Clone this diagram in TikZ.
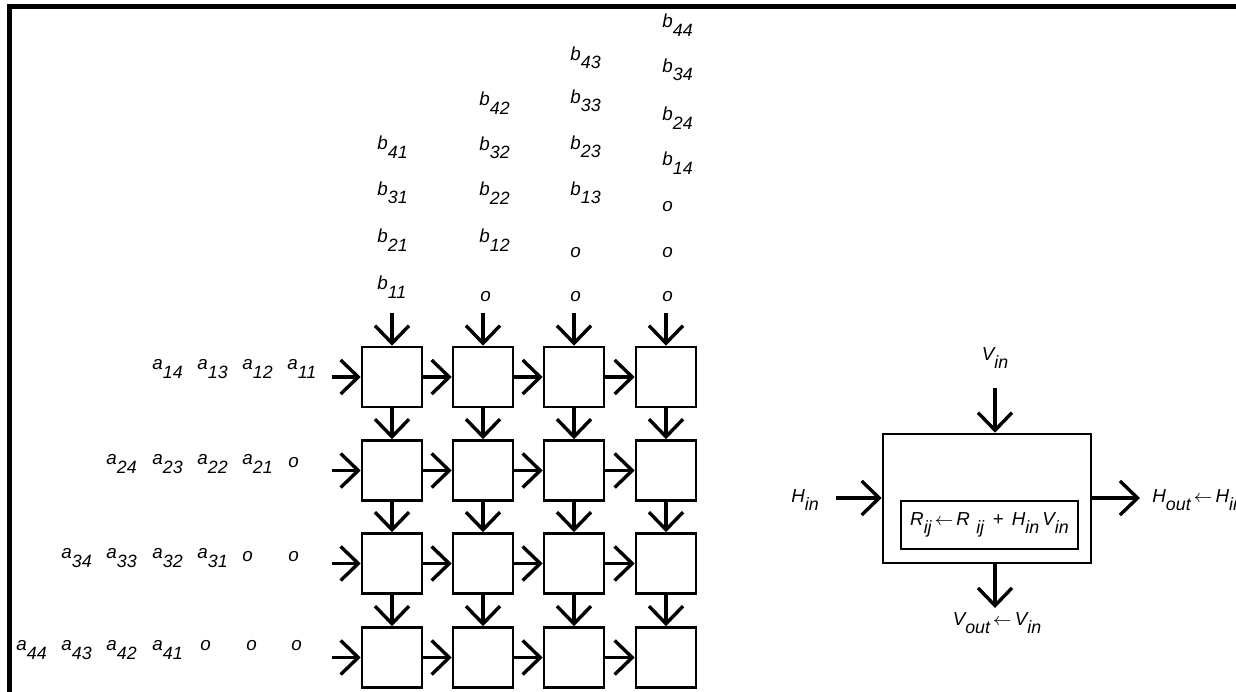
\documentclass[tikz,border=0pt]{standalone}
\usepackage{fontspec}
\setmainfont{Liberation Sans}
\usetikzlibrary{arrows.meta}
% lowered index, set almost at full size
\newcommand\lowsub[1]{\raisebox{-0.45em}{\fontsize{8.9}{9}\selectfont #1}}

\begin{document}
\begin{tikzpicture}[x=0.5pt,y=-0.5pt,
  pe/.style={draw, line width=1.3pt, minimum width=30pt, minimum height=30pt, inner sep=0pt},
  flow/.style={line width=1.7pt, -{Straight Barb[length=8.8pt,width=17pt,line width=1.7pt]}},
  lbl/.style={font=\fontsize{9.4}{10}\selectfont\itshape, inner sep=0pt, anchor=west},
  clbl/.style={font=\fontsize{9.4}{10}\selectfont\itshape, inner sep=0pt},
]
\useasboundingbox (0,0) rectangle (1236,691);
\clip (0,0) rectangle (1236,691);

% frame
\draw[line width=2.6pt] (9.5,700) -- (9.5,6.5) -- (1240,6.5);

% processing elements
\foreach \r/\y in {1/377,2/470.5,3/563.5,4/657.5}
  \foreach \c/\x in {1/392,2/483,3/574,4/666}
    \node[pe] (c\r\c) at (\x,\y) {};

% inputs from above and from the left
\foreach \c/\x in {1/392,2/483,3/574,4/666} {
  \coordinate (vin\c) at (\x,313);
  \draw[flow] (vin\c) -- (c1\c.north);
}
\foreach \r/\y in {1/377,2/470.5,3/563.5,4/657.5} {
  \coordinate (hin\r) at (332,\y);
  \draw[flow] (hin\r) -- (c\r1.west);
}

% links between neighbours
\foreach \r in {1,2,3,4}
  \foreach \c/\n in {1/2,2/3,3/4}
    \draw[flow] (c\r\c.east) -- (c\r\n.west);
\foreach \c in {1,2,3,4}
  \foreach \r/\n in {1/2,2/3,3/4}
    \draw[flow] (c\r\c.south) -- (c\n\c.north);

% B stream, column by column
\node[lbl] (b41) at (377,147) {b\lowsub{41}};
\node[lbl] (b31) at (377,193) {b\lowsub{31}};
\node[lbl] (b21) at (377,240) {b\lowsub{21}};
\node[lbl] (b11) at (377,287) {b\lowsub{11}};

\node[lbl] (b42) at (479,103) {b\lowsub{42}};
\node[lbl] (b32) at (479,148) {b\lowsub{32}};
\node[lbl] (b22) at (479,193) {b\lowsub{22}};
\node[lbl] (b12) at (479,240) {b\lowsub{12}};
\node[lbl] (z21) at (480,297) {o};

\node[lbl] (b43) at (570,58) {b\lowsub{43}};
\node[lbl] (b33) at (570,101) {b\lowsub{33}};
\node[lbl] (b23) at (570,147) {b\lowsub{23}};
\node[lbl] (b13) at (570,193) {b\lowsub{13}};
\node[lbl] (z32) at (570,253) {o};
\node[lbl] (z31) at (570,297) {o};

\node[lbl] (b44) at (662,25) {b\lowsub{44}};
\node[lbl] (b34) at (662,70) {b\lowsub{34}};
\node[lbl] (b24) at (662,118) {b\lowsub{24}};
\node[lbl] (b14) at (662,163) {b\lowsub{14}};
\node[lbl] (z43) at (662,207) {o};
\node[lbl] (z42) at (662,253) {o};
\node[lbl] (z41) at (662,297) {o};

% A stream, row by row
\node[lbl] (a14) at (152,369) {a\lowsub{14}};
\node[lbl] (a13) at (197,369) {a\lowsub{13}};
\node[lbl] (a12) at (242,369) {a\lowsub{12}};
\node[lbl] (a11) at (287,369) {a\lowsub{11}};

\node[lbl] (a24) at (106,464) {a\lowsub{24}};
\node[lbl] (a23) at (152,464) {a\lowsub{23}};
\node[lbl] (a22) at (197,464) {a\lowsub{22}};
\node[lbl] (a21) at (242,464) {a\lowsub{21}};
\node[lbl] (y21) at (288,463) {o};

\node[lbl] (a34) at (61,558) {a\lowsub{34}};
\node[lbl] (a33) at (106,558) {a\lowsub{33}};
\node[lbl] (a32) at (152,558) {a\lowsub{32}};
\node[lbl] (a31) at (197,558) {a\lowsub{31}};
\node[lbl] (y32) at (242,557) {o};
\node[lbl] (y31) at (288,557) {o};

\node[lbl] (a44) at (16,650) {a\lowsub{44}};
\node[lbl] (a43) at (61,650) {a\lowsub{43}};
\node[lbl] (a42) at (106,650) {a\lowsub{42}};
\node[lbl] (a41) at (152,650) {a\lowsub{41}};
\node[lbl] (y43) at (200,646) {o};
\node[lbl] (y42) at (246,646) {o};
\node[lbl] (y41) at (291,646) {o};

% single cell
\node[draw, line width=1.3pt, minimum width=104pt, minimum height=64.5pt, inner sep=0pt] (cell) at (987,498.5) {};
\node[draw, line width=1.3pt, minimum width=88.5pt, minimum height=24pt, inner sep=0pt, clbl] (rule) at (989.5,525)
  {R\lowsub{ij}\,$\leftarrow$\,R\,\,\lowsub{ij}\, + \,H\lowsub{in}\,V\lowsub{in}};

\coordinate (vtop) at (995,388);
\coordinate (vbot) at (995,608);
\coordinate (hleft) at (836,498);
\coordinate (hright) at (1140,498);
\draw[flow] (vtop) -- (vtop |- cell.north);
\draw[flow] (vbot |- cell.south) -- (vbot);
\draw[flow] (hleft) -- (hleft -| cell.west);
\draw[flow] (hright -| cell.east) -- (hright);

\node[clbl] (vinl) at (995,358) {V\lowsub{in}};
\node[clbl] (hinl) at (805,500) {H\lowsub{in}};
\node[lbl] (houtl) at (1152,500) {H\lowsub{out}\,$\leftarrow$\,H\lowsub{in}};
\node[clbl] (voutl) at (997,623) {V\lowsub{out}\,$\leftarrow$\,V\lowsub{in}};
\end{tikzpicture}
\end{document}
